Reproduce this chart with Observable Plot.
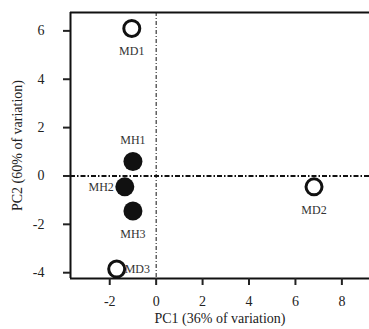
<!DOCTYPE html>
<html>
<head>
<meta charset="utf-8">
<script src="https://cdn.jsdelivr.net/npm/d3@7"></script>
<script src="https://cdn.jsdelivr.net/npm/@observablehq/plot@0.6"></script>
<style>
  html, body { margin: 0; padding: 0; background: white; }
</style>
</head>
<body>
<div id="chart"></div>
<script>
const names = ["MD1", "MD2", "MD3", "MH1", "MH2", "MH3"];
const pc1 = [-1.05, 6.8, -1.7, -1.0, -1.35, -1.0];
const pc2 = [6.1, -0.45, -3.85, 0.6, -0.45, -1.45];
const groups = ["MD", "MD", "MD", "MH", "MH", "MH"];
const xTicks = [-2, 0, 2, 4, 6, 8];
const yTicks = [-4, -2, 0, 2, 4, 6];
const xLabel = "PC1 (36% of variation)";
const yLabel = "PC2 (60% of variation)";
const xDomain = [-3.69, 9.19];
const yDomain = [-4.24, 6.76];

const data = names.map((name, i) => ({name, x: pc1[i], y: pc2[i], group: groups[i]}));

const below = ["MD1", "MD2", "MH3"];
const above = ["MH1"];
const left = ["MH2"];
const right = ["MD3"];
const fmt = d => String(d);

const chart = Plot.plot({
  width: 369,
  height: 329,
  marginLeft: 70,
  marginRight: 0,
  marginTop: 12,
  marginBottom: 51,
  style: {fontFamily: "'Liberation Serif', serif", fontSize: "14px", color: "#222", background: "white"},
  x: {domain: xDomain},
  y: {domain: yDomain},
  marks: [
    Plot.ruleX([0], {stroke: "#111", strokeWidth: 1, strokeDasharray: "4,2,1,2"}),
    Plot.ruleY([0], {stroke: "#111", strokeWidth: 2, strokeDasharray: "5,2,1.5,2"}),
    Plot.ruleY(yDomain, {stroke: "#111", strokeWidth: 2}),
    Plot.ruleX([xDomain[0]], {stroke: "#111", strokeWidth: 2}),
    Plot.axisY({ticks: yTicks, tickFormat: fmt, tickSize: 7, tickPadding: 19, strokeWidth: 2, fontSize: 14,
      label: yLabel, labelArrow: "none", labelAnchor: "center", labelOffset: 58}),
    Plot.axisX({ticks: xTicks, tickFormat: fmt, tickSize: 7, tickPadding: 11, strokeWidth: 2, fontSize: 14,
      label: xLabel, labelArrow: "none", labelAnchor: "center", labelOffset: 44}),
    Plot.dot(data.filter(d => d.group === "MD"), {x: "x", y: "y", r: 8, stroke: "#111", strokeWidth: 3, fill: "white"}),
    Plot.dot(data.filter(d => d.group === "MH"), {x: "x", y: "y", r: 9.5, fill: "#111", stroke: "none"}),
    Plot.text(data.filter(d => below.includes(d.name)), {x: "x", y: "y", text: "name", dy: 23, fontSize: 12, fill: "#333"}),
    Plot.text(data.filter(d => above.includes(d.name)), {x: "x", y: "y", text: "name", dy: -21, fontSize: 12, fill: "#333"}),
    Plot.text(data.filter(d => left.includes(d.name)), {x: "x", y: "y", text: "name", dx: -11, textAnchor: "end", fontSize: 12, fill: "#333"}),
    Plot.text(data.filter(d => right.includes(d.name)), {x: "x", y: "y", text: "name", dx: 8, textAnchor: "start", fontSize: 12, fill: "#333"})
  ]
});
document.getElementById("chart").appendChild(chart);
</script>
</body>
</html>
